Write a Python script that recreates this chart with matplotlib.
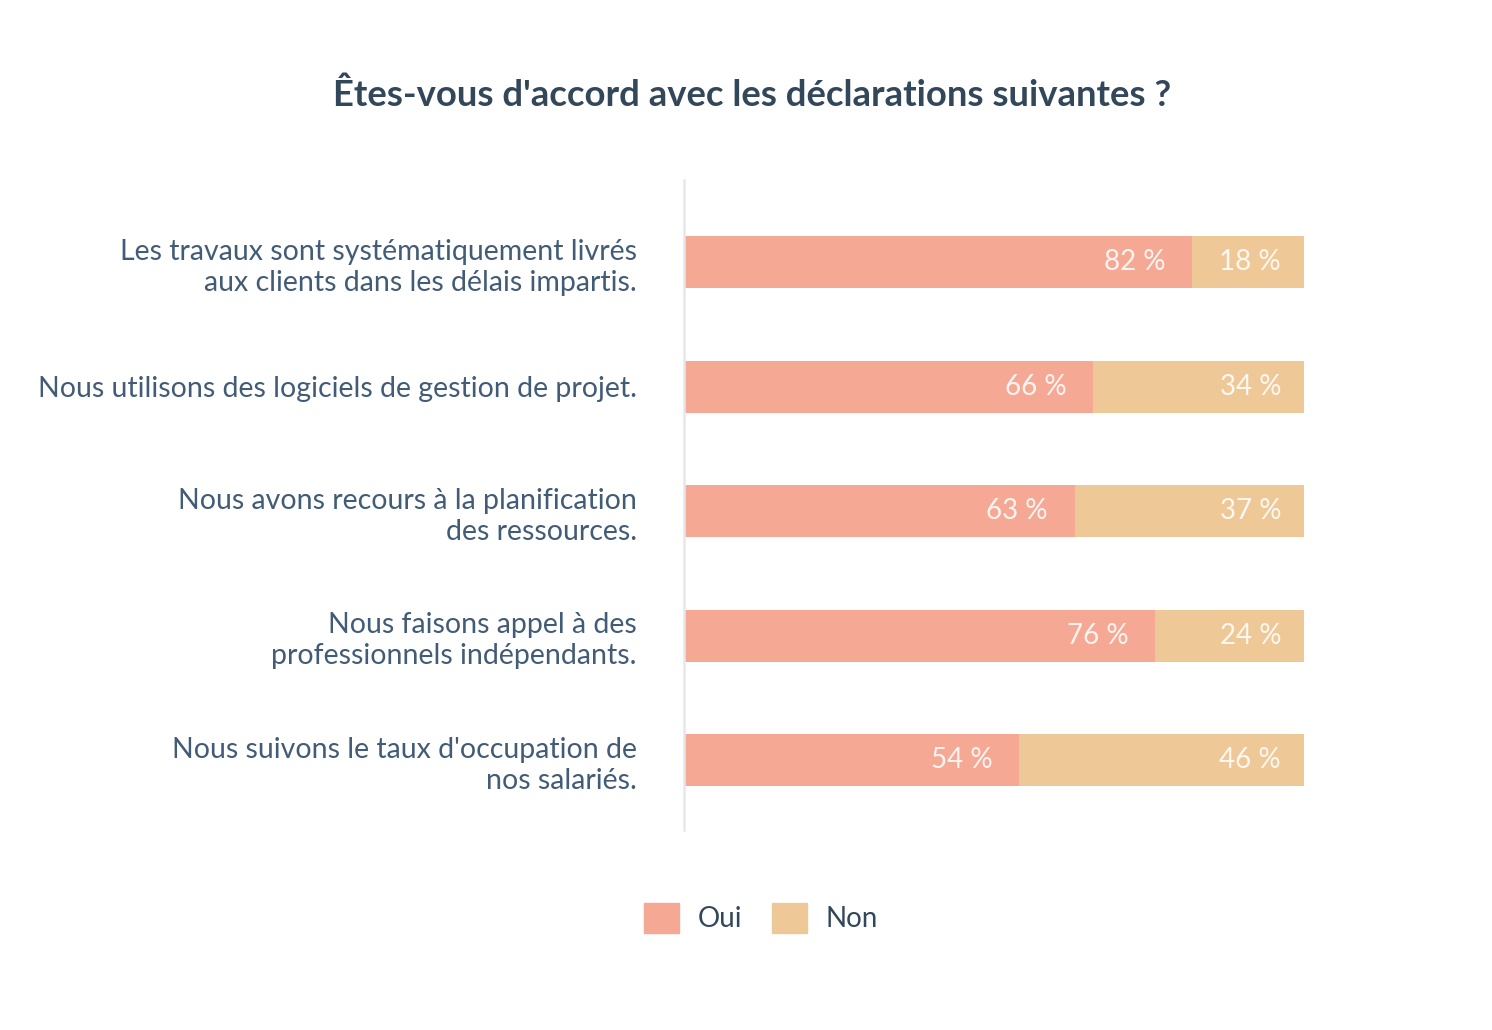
import matplotlib.pyplot as plt
from matplotlib.patches import Patch

categories = [
    "Les travaux sont systématiquement livrés\naux clients dans les délais impartis.",
    "Nous utilisons des logiciels de gestion de projet.",
    "Nous avons recours à la planification\ndes ressources.",
    "Nous faisons appel à des\nprofessionnels indépendants.",
    "Nous suivons le taux d'occupation de\nnos salariés.",
]
oui = [82, 66, 63, 76, 54]
non = [18, 34, 37, 24, 46]
series_names = ["Oui", "Non"]
colors = ["#F5A994", "#EEC896"]

plt.rcParams["font.family"] = ["Lato", "DejaVu Sans"]

W, H = 1492, 1030
fig = plt.figure(figsize=(W / 100, H / 100), dpi=100)
ax = fig.add_axes([684 / W, 1 - 830 / H, 620 / W, 650 / H])

y = list(range(len(categories)))
ax.barh(y, oui, height=0.42, color=colors[0], label=series_names[0])
ax.barh(y, non, left=oui, height=0.42, color=colors[1], label=series_names[1])

for i in y:
    ax.text(oui[i] - 4.3, i, f"{oui[i]} %", ha="right", va="center",
            color="white", alpha=0.88, fontsize=20)
    ax.text(oui[i] + non[i] - 3.7, i, f"{non[i]} %", ha="right", va="center",
            color="white", alpha=0.88, fontsize=20)

ax.set_xlim(0, 100)
ax.set_ylim(4.56, -0.66)
ax.set_yticks(y)
ax.set_yticklabels(categories, fontsize=20.5, color="#425B76", linespacing=1.25)
ax.tick_params(axis="y", length=0, pad=34)
ax.set_xticks([])
for s in ["top", "right", "bottom"]:
    ax.spines[s].set_visible(False)
ax.spines["left"].set_color("#E5E8EB")
ax.spines["left"].set_linewidth(1.8)

fig.text(752 / W, 1 - 95 / H, "Êtes-vous d'accord avec les déclarations suivantes ?",
         ha="center", va="center", fontsize=26.3, fontweight="bold", color="#33475B")

handles = [Patch(color=c, label=n) for c, n in zip(colors, series_names)]
fig.legend(handles=handles, loc="center", bbox_to_anchor=(761 / W, 1 - 918 / H),
           ncol=2, frameon=False, fontsize=20, labelcolor="#33475B",
           handlelength=1.26, handleheight=1.26, handletextpad=0.65, columnspacing=1.1)

fig.savefig("out.png", dpi=100)
